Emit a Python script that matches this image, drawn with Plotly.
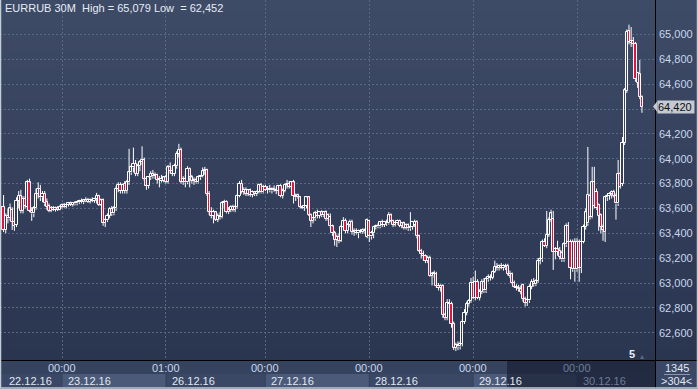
import plotly.graph_objects as go

# ---------------- DATA (EURRUB, 30-minute bars) ----------------
opens = [
 63.560,63.612,63.430,63.540,63.520,63.588,63.491,63.470,63.660,63.700,63.580,63.680,63.610,63.810,63.580,63.560,63.600,63.720,63.760,63.690,63.720,63.650,63.620,63.580,63.600,63.590,63.600,63.590,63.615,
 63.625,63.615,63.630,63.640,63.630,63.645,63.640,63.650,63.660,63.650,63.665,63.670,63.655,63.670,63.660,63.675,63.700,63.630,63.665,63.485,63.505,63.540,63.595,63.560,63.600,63.760,63.790,63.740,63.800,63.740,63.810,63.890,63.930,63.960,63.880,63.940,63.970,63.990,63.840,63.780,63.850,63.880,63.860,63.870,63.830,63.840,63.825,63.850,
 63.815,63.930,63.900,63.880,63.940,64.040,64.070,63.815,63.840,63.810,63.920,63.850,63.820,63.830,63.810,63.850,63.860,63.900,63.910,63.720,63.570,63.540,63.570,63.510,63.540,63.530,63.640,63.655,63.570,63.590,63.615,63.590,63.610,63.700,63.800,63.735,63.750,63.720,63.745,63.710,63.730,63.715,63.735,63.790,63.730,63.775,
 63.750,63.760,63.745,63.760,63.750,63.740,63.780,63.700,63.740,63.790,63.800,63.775,63.810,63.700,63.690,63.690,63.610,63.605,63.620,63.690,63.550,63.500,63.520,63.560,63.540,63.570,63.545,63.570,63.515,63.530,63.455,63.400,63.350,63.370,63.340,63.450,63.500,63.420,63.470,63.495,63.410,63.420,63.400,63.420,63.410,63.425,63.370,63.500,
 63.375,63.400,63.450,63.460,63.455,63.490,63.470,63.490,63.480,63.545,63.500,63.470,63.480,63.500,63.460,63.480,63.445,63.465,63.440,63.450,63.470,63.495,63.375,63.260,63.230,63.215,63.180,63.200,63.060,63.070,63.075,62.975,62.960,62.975,62.740,62.720,62.840,62.830,62.670,62.480,62.500,62.490,62.510,62.690,62.760,62.830,62.855,63.000,62.880,
 63.010,62.880,62.930,63.010,62.940,63.030,63.050,63.040,63.090,63.130,63.120,63.140,63.120,63.135,63.140,63.075,63.070,63.000,62.970,62.960,62.950,62.985,62.870,62.840,62.860,62.970,63.010,62.990,63.015,63.180,63.190,63.330,63.300,63.390,63.510,63.515,63.250,63.270,63.260,63.240,63.190,63.310,63.460,63.330,63.110,63.330,
 63.110,63.330,63.120,63.330,63.450,63.480,63.700,63.530,63.810,63.735,63.630,63.545,63.450,63.410,63.690,63.700,63.715,63.735,63.700,63.640,63.880,63.800,64.130,64.545,65.030,64.930,64.950,64.925,64.610,64.680,64.500,
]
highs = [
 63.620,63.708,63.560,63.600,63.640,63.610,63.530,63.690,63.740,63.750,63.700,63.700,63.830,63.840,63.610,63.620,63.760,63.810,63.790,63.740,63.740,63.680,63.640,63.620,63.620,63.615,63.620,63.625,63.640,
 63.645,63.640,63.650,63.655,63.650,63.660,63.655,63.670,63.680,63.675,63.690,63.685,63.680,63.690,63.685,63.725,63.710,63.680,63.680,63.520,63.560,63.610,63.620,63.620,63.780,63.810,63.810,63.800,63.820,63.830,64.080,63.950,64.090,63.990,63.960,63.990,64.100,64.010,63.860,63.860,63.900,63.910,63.890,63.880,63.860,63.870,63.860,63.870,
 63.950,63.970,63.930,63.960,64.060,64.120,64.090,63.860,63.870,63.940,63.930,63.870,63.850,63.845,63.860,63.870,63.930,63.935,63.920,63.740,63.610,63.590,63.580,63.560,63.570,63.660,63.670,63.665,63.610,63.625,63.630,63.625,63.720,63.820,63.830,63.770,63.770,63.755,63.760,63.745,63.740,63.745,63.800,63.805,63.790,63.790,
 63.780,63.790,63.770,63.785,63.770,63.790,63.795,63.760,63.800,63.830,63.820,63.820,63.830,63.720,63.720,63.700,63.625,63.630,63.700,63.700,63.560,63.530,63.580,63.590,63.580,63.585,63.580,63.585,63.560,63.560,63.470,63.420,63.390,63.400,63.470,63.530,63.520,63.480,63.510,63.510,63.440,63.440,63.430,63.435,63.440,63.440,63.520,63.510,
 63.420,63.460,63.470,63.480,63.500,63.510,63.500,63.510,63.570,63.560,63.510,63.500,63.510,63.510,63.490,63.495,63.480,63.480,63.570,63.500,63.510,63.505,63.390,63.275,63.260,63.230,63.220,63.220,63.090,63.100,63.090,63.000,62.990,62.990,62.760,62.870,62.870,62.850,62.690,62.520,62.530,62.530,62.710,62.790,62.850,62.870,63.040,63.050,63.100,
 63.030,62.950,63.030,63.040,63.050,63.070,63.070,63.100,63.180,63.160,63.150,63.160,63.150,63.155,63.155,63.100,63.085,63.020,62.990,62.985,62.980,62.995,62.890,62.880,62.990,63.030,63.040,63.030,63.200,63.210,63.350,63.360,63.580,63.530,63.590,63.580,63.290,63.340,63.290,63.260,63.330,63.480,63.490,63.350,63.350,63.360,
 63.360,63.350,63.350,63.470,63.600,64.095,63.720,63.935,63.935,63.760,63.640,63.560,63.470,63.700,63.720,63.730,63.745,63.750,63.720,63.990,63.900,64.175,64.570,65.040,65.079,65.060,64.980,64.940,64.700,64.795,64.510,
]
lows = [
 63.500,63.410,63.400,63.480,63.500,63.427,63.420,63.450,63.600,63.560,63.560,63.600,63.590,63.570,63.500,63.530,63.590,63.680,63.660,63.650,63.620,63.590,63.570,63.570,63.580,63.575,63.580,63.585,63.600,
 63.605,63.600,63.615,63.620,63.615,63.625,63.625,63.635,63.640,63.635,63.650,63.645,63.640,63.650,63.645,63.640,63.620,63.620,63.460,63.450,63.490,63.520,63.540,63.545,63.580,63.730,63.720,63.720,63.720,63.720,63.790,63.870,63.890,63.860,63.860,63.900,63.950,63.820,63.750,63.760,63.830,63.840,63.840,63.800,63.770,63.810,63.810,63.800,
 63.800,63.880,63.860,63.860,63.920,64.010,63.800,63.790,63.770,63.795,63.770,63.800,63.790,63.800,63.800,63.830,63.850,63.870,63.700,63.550,63.520,63.480,63.500,63.490,63.510,63.520,63.600,63.560,63.555,63.570,63.575,63.570,63.600,63.690,63.720,63.710,63.700,63.700,63.695,63.690,63.700,63.700,63.720,63.720,63.720,63.740,
 63.720,63.730,63.720,63.735,63.715,63.720,63.690,63.680,63.730,63.760,63.760,63.760,63.640,63.660,63.680,63.600,63.595,63.580,63.600,63.540,63.450,63.480,63.500,63.520,63.520,63.530,63.530,63.500,63.500,63.440,63.380,63.300,63.290,63.320,63.330,63.440,63.400,63.400,63.450,63.390,63.380,63.390,63.360,63.400,63.395,63.400,63.360,63.330,
 63.350,63.360,63.430,63.440,63.440,63.450,63.450,63.460,63.470,63.490,63.450,63.455,63.470,63.450,63.440,63.430,63.430,63.420,63.420,63.430,63.450,63.360,63.250,63.200,63.180,63.160,63.160,63.050,62.980,63.040,62.960,62.940,62.930,62.720,62.700,62.700,62.800,62.640,62.460,62.452,62.460,62.465,62.490,62.670,62.740,62.810,62.840,62.870,62.860,
 62.870,62.860,62.910,62.920,62.920,63.010,63.020,63.030,63.080,63.100,63.100,63.110,63.100,63.105,63.060,63.040,62.990,62.960,62.940,62.930,62.910,62.850,62.810,62.815,62.840,62.950,62.970,62.975,63.000,63.150,63.170,63.290,63.280,63.370,63.490,63.105,63.190,63.220,63.190,63.170,63.170,63.290,63.320,63.030,63.090,63.010,
 63.090,63.010,63.080,63.320,63.430,63.460,63.510,63.520,63.600,63.590,63.420,63.400,63.340,63.330,63.660,63.670,63.680,63.690,63.510,63.620,63.760,63.780,64.110,64.530,64.920,64.900,64.900,64.620,64.570,64.480,64.370,
]
closes = [
 63.600,63.430,63.540,63.520,63.600,63.491,63.460,63.660,63.700,63.580,63.680,63.620,63.810,63.580,63.560,63.600,63.720,63.760,63.690,63.720,63.640,63.610,63.580,63.600,63.590,63.600,63.590,63.615,63.625,
 63.615,63.630,63.640,63.630,63.645,63.640,63.650,63.660,63.650,63.665,63.670,63.655,63.670,63.660,63.675,63.700,63.630,63.665,63.485,63.505,63.540,63.595,63.560,63.600,63.760,63.790,63.740,63.790,63.740,63.810,63.890,63.930,63.960,63.880,63.940,63.970,63.990,63.840,63.780,63.850,63.880,63.860,63.870,63.830,63.840,63.825,63.850,63.815,
 63.930,63.900,63.880,63.940,64.040,64.070,63.815,63.840,63.810,63.920,63.850,63.820,63.830,63.810,63.850,63.860,63.900,63.910,63.720,63.570,63.540,63.570,63.510,63.540,63.530,63.640,63.655,63.570,63.590,63.615,63.590,63.610,63.700,63.800,63.735,63.750,63.720,63.745,63.710,63.730,63.715,63.735,63.790,63.730,63.775,63.750,
 63.760,63.745,63.760,63.750,63.740,63.780,63.700,63.740,63.790,63.800,63.775,63.810,63.700,63.690,63.705,63.610,63.605,63.620,63.690,63.550,63.500,63.520,63.560,63.540,63.570,63.545,63.570,63.515,63.545,63.455,63.400,63.350,63.370,63.340,63.450,63.500,63.420,63.470,63.495,63.410,63.420,63.400,63.420,63.410,63.425,63.415,63.505,63.375,
 63.400,63.450,63.460,63.455,63.490,63.470,63.490,63.480,63.545,63.500,63.470,63.480,63.500,63.460,63.480,63.445,63.465,63.440,63.450,63.490,63.495,63.375,63.260,63.230,63.215,63.180,63.200,63.060,63.070,63.080,62.975,62.960,62.975,62.740,62.720,62.840,62.830,62.670,62.480,62.500,62.490,62.510,62.690,62.760,62.830,62.855,63.000,62.880,63.010,
 62.880,62.930,63.010,62.940,63.030,63.050,63.040,63.090,63.130,63.120,63.140,63.120,63.135,63.125,63.075,63.060,63.000,62.970,62.960,62.950,62.930,62.870,62.840,62.860,62.970,63.010,62.990,63.015,63.180,63.190,63.330,63.300,63.390,63.510,63.560,63.250,63.270,63.250,63.210,63.190,63.310,63.460,63.330,63.120,63.330,63.110,
 63.330,63.120,63.330,63.450,63.570,63.710,63.530,63.810,63.620,63.600,63.540,63.450,63.430,63.690,63.700,63.715,63.735,63.700,63.640,63.880,63.775,64.130,64.550,65.020,64.940,64.950,64.920,64.640,64.690,64.500,64.420,
]
bar_index = list(range(len(closes)))

day_start_index = [28, 76, 122, 170, 218, 266]
time_labels = ["00:00", "01:00", "00:00", "00:00", "00:00", "00:00"]
date_labels = ["22.12.16", "23.12.16", "26.12.16", "27.12.16", "28.12.16", "29.12.16", "30.12.16"]
price_ticks = [62.6, 62.8, 63.0, 63.2, 63.4, 63.6, 63.8, 64.0, 64.2, 64.4, 64.6, 64.8, 65.0]
symbol = "EURRUB"
timeframe = "30M"
total_bars = "1345"
visible_bars = ">304<"

# ---------------- LAYOUT GEOMETRY ----------------
W, H = 698, 389
PW, PH = 655, 360
XR = [-0.652, 302.03]
YR = [62.3803, 65.2777]
FONT = "Liberation Sans Narrow, Liberation Sans, Arial, sans-serif"


def pxx(px):
    return px / PW


def pxy(py):
    return (PH - py) / PH


def idx_to_px(i):
    return (i - XR[0]) / (XR[1] - XR[0]) * PW


def fmt(v):
    return f"{v:.3f}".replace(".", ",")


last = closes[-1]
# tick labels: the one hidden behind the current-price box is left blank
tick_text = ["" if abs(v - last) < 0.05 else fmt(v) for v in price_ticks]

# ---------------- TRACES ----------------
wick_x, wick_y = [], []
for i, o, h, l, c in zip(bar_index, opens, highs, lows, closes):
    top, bot = max(o, c), min(o, c)
    wick_x += [i, i, None, i, i, None]
    wick_y += [h, top, None, bot, l, None]

body_base = [min(o, c) for o, c in zip(opens, closes)]
body_len = [max(abs(c - o), 0.002) for o, c in zip(opens, closes)]
body_fill = ["#e8103e" if c < o else "rgba(0,0,0,0)" for o, c in zip(opens, closes)]

fig = go.Figure()
fig.add_trace(go.Scatter(x=wick_x, y=wick_y, mode="lines",
                         line=dict(color="#ffffff", width=1),
                         hoverinfo="skip", showlegend=False))
fig.add_trace(go.Bar(x=bar_index, y=body_len, base=body_base, width=1.0,
                     marker=dict(color=body_fill, line=dict(color="#ffffff", width=1)),
                     hoverinfo="skip", showlegend=False))

# ---------------- BACKGROUND GRADIENT ----------------
shapes = []
top_c, bot_c = (62, 75, 103), (42, 53, 80)
nb = 36
for k in range(nb):
    t = k / (nb - 1)
    col = tuple(round(top_c[j] + (bot_c[j] - top_c[j]) * t) for j in range(3))
    shapes.append(dict(type="rect", xref="paper", yref="paper",
                       x0=0, x1=pxx(W), y0=pxy((k + 1) * 10), y1=pxy(k * 10),
                       fillcolor=f"rgb{col}", line=dict(width=0), layer="below"))

# ---------------- BOTTOM STRIP ----------------
strip_top, strip_mid, strip_bot = 361, 374, 387
shapes.append(dict(type="rect", xref="paper", yref="paper", x0=0, x1=pxx(PW),
                   y0=pxy(strip_bot + 2), y1=pxy(strip_top), fillcolor="#36435f",
                   line=dict(width=0), layer="above"))
cell_edges = [0] + [idx_to_px(i) for i in day_start_index] + [PW]
for k in range(len(cell_edges) - 1):
    col = "#4b5a78" if k % 2 == 1 else "#3a4765"
    shapes.append(dict(type="rect", xref="paper", yref="paper",
                       x0=pxx(cell_edges[k] + 0.5), x1=pxx(cell_edges[k + 1] - 0.5),
                       y0=pxy(strip_bot), y1=pxy(strip_mid),
                       fillcolor=col, line=dict(width=0), layer="above"))
# dark overlay over right part of strip
shapes.append(dict(type="rect", xref="paper", yref="paper", x0=pxx(507), x1=pxx(PW),
                   y0=pxy(strip_bot + 1), y1=pxy(strip_top), fillcolor="rgba(25,33,52,0.72)",
                   line=dict(width=0), layer="above"))
# right-bottom box
shapes.append(dict(type="rect", xref="paper", yref="paper", x0=pxx(PW + 1), x1=pxx(W - 1),
                   y0=pxy(strip_bot + 1), y1=pxy(strip_top), fillcolor="#3a4866",
                   line=dict(width=0), layer="above"))
shapes.append(dict(type="line", xref="paper", yref="paper", x0=pxx(664), x1=pxx(690),
                   y0=pxy(374.5), y1=pxy(374.5), line=dict(color="#8a98b0", width=1), layer="above"))
# separators
shapes.append(dict(type="line", xref="paper", yref="paper", x0=pxx(PW + 0.5), x1=pxx(PW + 0.5),
                   y0=pxy(H), y1=pxy(0), line=dict(color="#000000", width=1), layer="above"))
shapes.append(dict(type="line", xref="paper", yref="paper", x0=0, x1=pxx(W),
                   y0=pxy(PH + 0.5), y1=pxy(PH + 0.5), line=dict(color="#000000", width=1), layer="above"))
# outer light frame
shapes.append(dict(type="rect", xref="paper", yref="paper", x0=pxx(0.5), x1=pxx(W - 0.5),
                   y0=pxy(H - 1), y1=pxy(-2), fillcolor="rgba(0,0,0,0)",
                   line=dict(color="#c4ccd4", width=1.5), layer="above"))

# current price pointer
dy = 0.045
shapes.append(dict(type="path", xref="paper", yref="y",
                   path=f"M {pxx(653)} {last} L {pxx(657.5)} {last + dy} L {pxx(657.5)} {last - dy} Z",
                   fillcolor="#c4c9d2", line=dict(width=0), layer="above"))

annotations = []
title = (f"{symbol} {timeframe}\u00a0\u00a0High = {fmt(max(highs))} Low\u00a0\u00a0= {fmt(min(lows))}")
annotations.append(dict(text=title, xref="paper", yref="paper", x=pxx(3), y=pxy(8),
                        xanchor="left", yanchor="middle", showarrow=False,
                        font=dict(family=FONT, size=11, color="#e6ecf5")))
annotations.append(dict(text=fmt(last), xref="paper", yref="y", x=pxx(657), y=last,
                        xanchor="left", yanchor="middle", showarrow=False,
                        bgcolor="#c4c9d2", borderpad=0, width=36, align="left",
                        font=dict(family=FONT, size=11, color="#101010")))
for k, (i, lab) in enumerate(zip(day_start_index, time_labels)):
    dim = k == len(day_start_index) - 1
    annotations.append(dict(text=lab, xref="paper", yref="paper", x=pxx(idx_to_px(i)), y=pxy(367.5),
                            xanchor="center", yanchor="middle", showarrow=False,
                            font=dict(family=FONT, size=11, color="#6e7d98" if dim else "#c8d6ec")))
date_x = [7] + [idx_to_px(i) + 4 for i in day_start_index]
for k, (xp, lab) in enumerate(zip(date_x, date_labels)):
    dim = k == len(date_labels) - 1
    annotations.append(dict(text=lab, xref="paper", yref="paper", x=pxx(xp), y=pxy(380.5),
                            xanchor="left", yanchor="middle", showarrow=False,
                            font=dict(family=FONT, size=11, color="#6e7d98" if dim else "#e2e8f2")))
annotations.append(dict(text=total_bars, xref="paper", yref="paper", x=pxx(677), y=pxy(367.5),
                        xanchor="center", yanchor="middle", showarrow=False,
                        font=dict(family=FONT, size=11, color="#e2e8f2")))
annotations.append(dict(text=visible_bars, xref="paper", yref="paper", x=pxx(676.5), y=pxy(381),
                        xanchor="center", yanchor="middle", showarrow=False,
                        font=dict(family=FONT, size=11, color="#e2e8f2")))
annotations.append(dict(text="<b>5</b>", xref="paper", yref="paper", x=pxx(632), y=pxy(354),
                        xanchor="center", yanchor="middle", showarrow=False,
                        font=dict(family=FONT, size=11, color="#e8eef8")))
annotations.append(dict(text="\u25b4", xref="paper", yref="paper", x=pxx(642), y=pxy(356),
                        xanchor="center", yanchor="middle", showarrow=False,
                        font=dict(family="DejaVu Sans", size=8, color="#5c6a84")))

fig.update_layout(
    width=W, height=H,
    margin=dict(l=0, r=W - PW, t=0, b=H - PH, pad=0),
    paper_bgcolor="#33405c", plot_bgcolor="rgba(0,0,0,0)",
    barmode="overlay", bargap=0, showlegend=False,
    separators=",.",
    shapes=shapes, annotations=annotations,
    xaxis=dict(range=XR, tickvals=day_start_index, showticklabels=False, ticks="",
               showgrid=True, gridcolor="#5a6882", griddash="2px,2px", gridwidth=1,
               zeroline=False, showline=False, fixedrange=True),
    yaxis=dict(range=YR, side="right", tickvals=price_ticks, ticktext=tick_text,
               ticks="", ticklabelstandoff=3,
               tickfont=dict(family=FONT, size=11, color="#c8d6ec"),
               showgrid=True, gridcolor="#5a6882", griddash="2px,2px", gridwidth=1,
               zeroline=False, showline=False, fixedrange=True),
)

fig.write_html("out.html")
